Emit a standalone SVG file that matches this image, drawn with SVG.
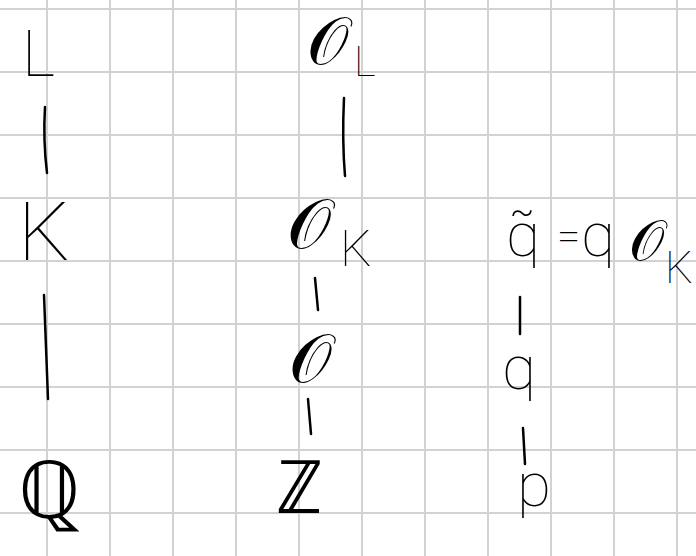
<svg xmlns="http://www.w3.org/2000/svg" width="696" height="556" viewBox="0 0 696 556">
<style>
.grid line{stroke:#d2d2d2;stroke-width:2}
.t{font-family:Roboto,"DejaVu Sans",sans-serif;font-weight:100;fill:#000}
.c path{fill:none;stroke:#000;stroke-width:2.5;stroke-linecap:round}
</style>
<rect width="696" height="556" fill="#fff"/>
<g class="grid">
<line x1="47" y1="0" x2="47" y2="556"/><line x1="110" y1="0" x2="110" y2="556"/><line x1="173" y1="0" x2="173" y2="556"/><line x1="236" y1="0" x2="236" y2="556"/><line x1="299" y1="0" x2="299" y2="556"/><line x1="362" y1="0" x2="362" y2="556"/><line x1="425" y1="0" x2="425" y2="556"/><line x1="488" y1="0" x2="488" y2="556"/><line x1="551" y1="0" x2="551" y2="556"/><line x1="614" y1="0" x2="614" y2="556"/><line x1="677" y1="0" x2="677" y2="556"/>
<line x1="0" y1="9" x2="696" y2="9"/><line x1="0" y1="72" x2="696" y2="72"/><line x1="0" y1="135" x2="696" y2="135"/><line x1="0" y1="198" x2="696" y2="198"/><line x1="0" y1="261" x2="696" y2="261"/><line x1="0" y1="324" x2="696" y2="324"/><line x1="0" y1="387" x2="696" y2="387"/><line x1="0" y1="450" x2="696" y2="450"/><line x1="0" y1="513" x2="696" y2="513"/>
</g>
<g id="L"><text class="t" x="22" y="76" font-size="64">L</text></g>
<g id="K"><text class="t" x="18" y="260" font-size="82">K</text></g>
<g id="Q"><text class="t" x="18" y="518" font-size="80">ℚ</text></g>
<g id="OL"><text class="t" x="307" y="64" font-size="66">𝒪</text><text class="t" x="354" y="76" font-size="42">L</text></g>
<g id="OK"><text class="t" x="287" y="248" font-size="70">𝒪</text><text class="t" x="340" y="266" font-size="50">K</text></g>
<g id="O"><text class="t" x="289" y="382" font-size="68">𝒪</text></g>
<g id="Z"><text class="t" x="276" y="513" font-size="74">ℤ</text></g>
<g id="qt"><text class="t" x="506" y="256" font-size="62">q̃</text><text class="t" x="557" y="250" font-size="42">=</text><text class="t" x="581" y="256" font-size="62">q</text><text class="t" x="629" y="260" font-size="56">𝒪</text><text class="t" x="665" y="283" font-size="44">K</text></g>
<g id="q"><text class="t" x="502" y="389" font-size="62">q</text></g>
<g id="p"><text class="t" x="517" y="506" font-size="62">p</text></g>
<g class="c" id="connectors">
<path d="M45,107 Q43,140 47,173"/>
<path d="M44,295 Q46,350 48,399"/>
<path d="M344,98 Q342,140 345,176"/>
<path d="M315,278 L318,310"/>
<path d="M308,399 L311,434"/>
<path d="M520,297 L520,334"/>
<path d="M523,428 L525,464"/>
</g>
</svg>
